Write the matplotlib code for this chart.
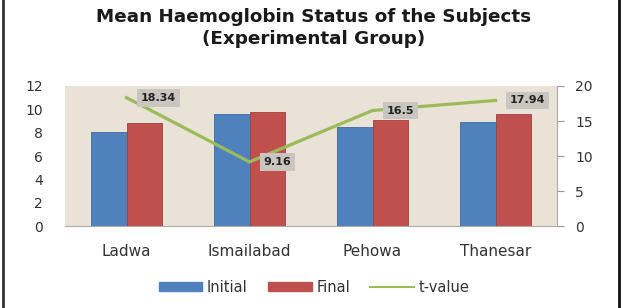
import numpy as np
import matplotlib
matplotlib.use("Agg")
import matplotlib.pyplot as plt
from matplotlib.lines import Line2D
from matplotlib.patches import Patch

# data
places = ["Ladwa", "Ismailabad", "Pehowa", "Thanesar"]
initial = [8.1, 9.6, 8.5, 8.9]
final = [8.8, 9.8, 9.1, 9.6]
t_value = [18.34, 9.16, 16.5, 17.94]
t_labels = ["18.34", "9.16", "16.5", "17.94"]

blue = "#4F81BD"
red = "#C0504D"
green = "#9BBB59"

plt.rcParams['font.family'] = ['DejaVu Sans']

fig = plt.figure(figsize=(6.28, 3.08), dpi=100)
ax = fig.add_axes([0.1035, 0.266, 0.7835, 0.4548])
ax.set_facecolor("#E8E2D7")

x = np.arange(len(places))
w = 0.285
ax.bar(x - w / 2, initial, w, color=blue, edgecolor="#3E6AA0", linewidth=0.6, zorder=2)
ax.bar(x + w / 2, final, w, color=red, edgecolor="#A03F3C", linewidth=0.6, zorder=2)

ax.set_xlim(-0.5, len(places) - 0.5)
ax.set_ylim(0, 12)
ax.set_yticks(range(0, 13, 2))
ax.set_xticks(x)
ax.set_xticklabels(places, fontsize=11, color="#333333")
ax.tick_params(axis="y", length=0, pad=16, labelsize=10, labelcolor="#333333")
ax.tick_params(axis="x", length=0, pad=13)
for s in ["top", "left", "right"]:
    ax.spines[s].set_visible(False)
ax.spines["bottom"].set_color("#AAAAAA")

ax2 = ax.twinx()
ax2.plot(x, t_value, color=green, linewidth=2.3, zorder=3)
ax2.set_ylim(0, 20)
ax2.set_yticks(range(0, 21, 5))
ax2.tick_params(axis="y", length=5, color="#999999", pad=8, labelsize=10, labelcolor="#333333")
for s in ["top", "left", "bottom"]:
    ax2.spines[s].set_visible(False)
ax2.spines["right"].set_color("#AAAAAA")

for xi, yi, lab in zip(x, t_value, t_labels):
    ax2.annotate(lab, (xi, yi), xytext=(10, 0), textcoords="offset points",
                 ha="left", va="center", fontsize=8, fontweight="bold", color="#222222",
                 bbox=dict(boxstyle="square,pad=0.35", fc="#C9C6C2", ec="none"))

fig.text(0.5, 0.975, "Mean Haemoglobin Status of the Subjects\n(Experimental Group)",
         ha="center", va="top", fontsize=13.2, fontweight="bold", color="#1a1a1a",
         linespacing=1.28)

handles = [Patch(color=blue), Patch(color=red), Line2D([], [], color=green, linewidth=1.5)]
fig.legend(handles, ["Initial", "Final", "t-value"], loc="center", bbox_to_anchor=(0.5, 0.068),
           ncol=3, frameon=False, fontsize=10.5, handlelength=3.0, handleheight=0.5,
           columnspacing=1.4, handletextpad=0.3, labelcolor="#333333")

# frame lines at the left and right edges of the picture
fig.add_artist(Line2D([0.005, 0.005], [0, 1], color="#333333", linewidth=2, transform=fig.transFigure))
fig.add_artist(Line2D([0.986, 0.986], [0, 1], color="#111111", linewidth=2, transform=fig.transFigure))

fig.savefig("out.png", dpi=100)
